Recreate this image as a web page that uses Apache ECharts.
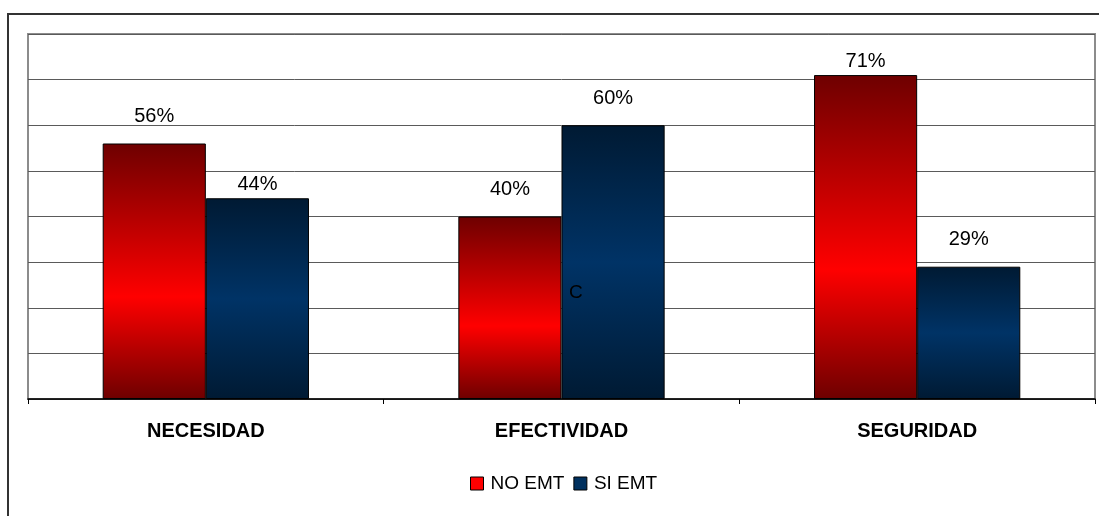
<!DOCTYPE html>
<html>
<head>
<meta charset="utf-8">
<script src="https://cdn.jsdelivr.net/npm/echarts@6/dist/echarts.min.js"></script>
<style>
html,body{margin:0;padding:0;background:#fff;}
#chart{width:1099px;height:516px;}
</style>
</head>
<body>
<div id="chart"></div>
<script>
// Categories and percentages for each group
const categories = ['NECESIDAD', 'EFECTIVIDAD', 'SEGURIDAD'];
const noEmt = [56, 40, 71];
const siEmt = [44, 60, 29];
const seriesNames = ['NO EMT', 'SI EMT'];

const FONT = 'Liberation Sans, Arial, sans-serif';

const redGrad = new echarts.graphic.LinearGradient(0, 0, 0, 1, [
  { offset: 0, color: '#6e0000' },
  { offset: 0.6, color: '#ff0000' },
  { offset: 1, color: '#6e0000' }
]);
const blueGrad = new echarts.graphic.LinearGradient(0, 0, 0, 1, [
  { offset: 0, color: '#001a33' },
  { offset: 0.5, color: '#003366' },
  { offset: 1, color: '#001a33' }
]);

const labelStyle = {
  show: true,
  position: 'top',
  distance: 17,
  formatter: '{c}%',
  fontFamily: FONT,
  fontSize: 20,
  color: '#000'
};

// a few labels sit closer to their bar tops
function withLabelDistance(values, near) {
  return values.map((v, i) => near.includes(i)
    ? { value: v, label: { distance: 4 } }
    : v);
}

const chart = echarts.init(document.getElementById('chart'), null, { renderer: 'canvas' });
chart.setOption({
  animation: false,
  backgroundColor: '#fff',
  grid: {
    left: 28, top: 34, right: 4, bottom: 117,
    show: true,
    borderColor: '#8c8c8c',
    borderWidth: 2,
    backgroundColor: 'transparent'
  },
  legend: {
    top: 469,
    left: 465,
    itemWidth: 13,
    itemHeight: 13,
    itemGap: 9,
    icon: 'rect',
    textStyle: {
      fontFamily: FONT,
      fontSize: 19,
      color: '#000',
      padding: [0, 0, 0, 2]
    },
    data: [
      { name: seriesNames[0], itemStyle: { color: '#ff0000', borderColor: '#000', borderWidth: 1 } },
      { name: seriesNames[1], itemStyle: { color: '#00305e', borderColor: '#000', borderWidth: 1 } }
    ]
  },
  xAxis: {
    type: 'category',
    data: categories,
    axisLine: { show: true, lineStyle: { color: '#000', width: 1.5 } },
    axisTick: { show: true, length: 5, alignWithLabel: false, lineStyle: { color: '#000' } },
    axisLabel: {
      margin: 22,
      fontFamily: FONT,
      fontWeight: 'bold',
      fontSize: 20,
      color: '#000'
    }
  },
  yAxis: {
    type: 'value',
    min: 0,
    max: 80,
    interval: 10,
    axisLine: { show: false },
    axisTick: { show: false },
    axisLabel: { show: false },
    splitLine: { show: true, lineStyle: { color: '#5a5a5a', width: 1 } }
  },
  series: [
    {
      name: seriesNames[0],
      type: 'bar',
      data: withLabelDistance(noEmt, [2]),
      barGap: '0%',
      barCategoryGap: '42%',
      itemStyle: { color: redGrad, borderColor: '#000', borderWidth: 1 },
      label: labelStyle
    },
    {
      name: seriesNames[1],
      type: 'bar',
      data: withLabelDistance(siEmt, [0]),
      itemStyle: { color: blueGrad, borderColor: '#000', borderWidth: 1 },
      label: labelStyle
    }
  ],
  graphic: [
    {
      type: 'rect',
      shape: { x: 8, y: 14, width: 1200, height: 700 },
      style: { fill: 'none', stroke: '#333', lineWidth: 2 },
      z: 100
    },
    {
      type: 'text',
      left: 569,
      top: 283,
      style: { text: 'C', fontFamily: FONT, fontSize: 19, fill: '#000' },
      z: 100
    }
  ]
});
</script>
</body>
</html>
